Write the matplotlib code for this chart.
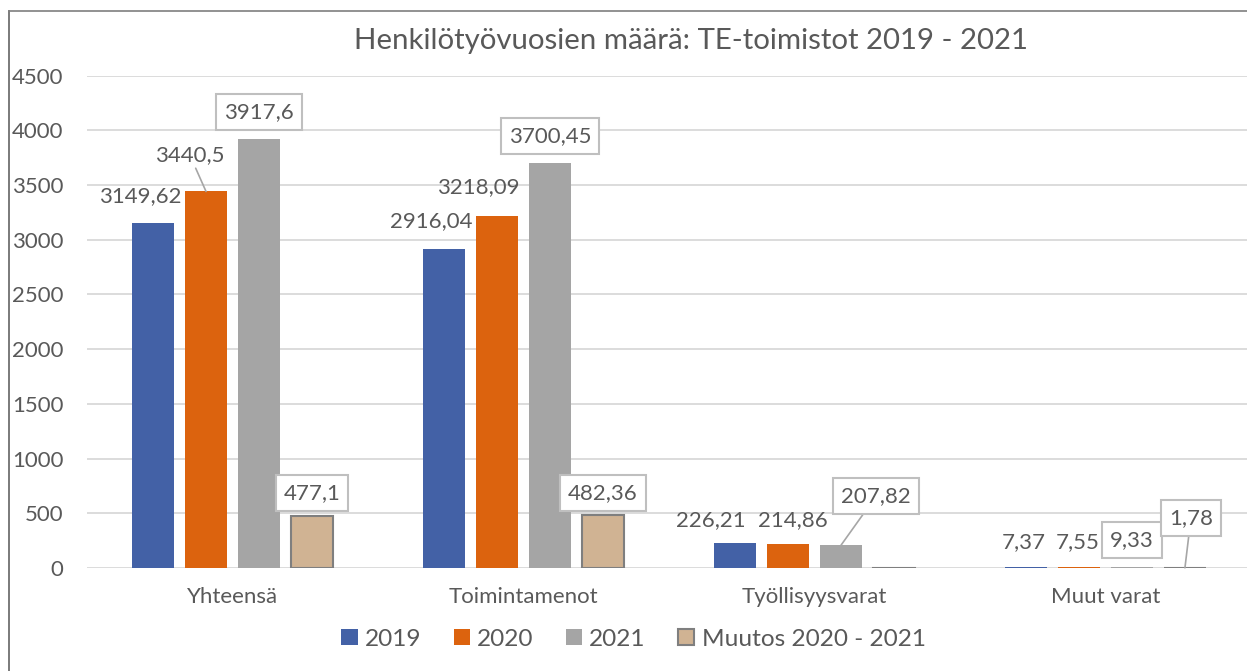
import matplotlib
matplotlib.use("Agg")
import matplotlib.pyplot as plt
from matplotlib.lines import Line2D
import numpy as np

plt.rcParams['font.family'] = ['Lato', 'DejaVu Sans']

categories = ["Yhteensä", "Toimintamenot", "Työllisyysvarat", "Muut varat"]
series_names = ["2019", "2020", "2021", "Muutos 2020 - 2021"]
v2019 = [3149.62, 2916.04, 226.21, 7.37]
v2020 = [3440.5, 3218.09, 214.86, 7.55]
v2021 = [3917.6, 3700.45, 207.82, 9.33]
vchange = [477.1, 482.36, -7.04, 1.78]
title = "Henkilötyövuosien määrä: TE-toimistot 2019 - 2021"
yticks = [0, 500, 1000, 1500, 2000, 2500, 3000, 3500, 4000, 4500]

colors = ["#4361A6", "#DC630E", "#A5A5A5", "#D0B393"]
TXT = "#595959"

W, H = 1247, 671
fig = plt.figure(figsize=(W / 100, H / 100), dpi=100)
ax = fig.add_axes([87 / W, 103 / H, 1164 / W, 492.5 / H])

x = np.arange(len(categories))
pitch = 0.182
bw = 0.1426
all_series = [v2019, v2020, v2021, vchange]
bars = []
for i, (vals, c) in enumerate(zip(all_series, colors)):
    off = (i - 1.5) * pitch
    if i == 3:
        b = ax.bar(x + off, vals, bw, color=c, edgecolor="#7F7F7F", linewidth=1.5,
                   label=series_names[i], zorder=3)
    else:
        b = ax.bar(x + off, vals, bw, color=c, label=series_names[i], zorder=3)
    bars.append(b)

ax.set_xlim(-0.5, 3.5)
ax.set_ylim(0, 4500)
ax.set_yticks(yticks)
ax.set_yticklabels([str(t) for t in yticks])
ax.set_xticks(x)
ax.set_xticklabels(categories)
ax.tick_params(axis='y', length=0, pad=17, labelsize=16, labelcolor=TXT)
ax.tick_params(axis='x', length=0, pad=14, labelsize=16, labelcolor=TXT)
ax.grid(axis='y', color="#D9D9D9", linewidth=1.3, zorder=0)
ax.set_axisbelow(True)
for s in ax.spines.values():
    s.set_visible(False)

def fmt(v):
    return f"{v:g}".replace(".", ",")

# label offsets in pixels (dx, dy) per series per category; None = no label
offsets = [
    [(-13, 27), (-13, 28), (-24, 23), (-2, 25)],
    [(-16, 36), (-19, 29), (5, 24), (-1, 25)],
    [(0, 27), (0, 27), (35, 49), (0, 27)],
    [(0, 23), (0, 22), None, (6, 50)],
]
boxed = [False, False, True, True]
leaders = {(1, 0), (2, 2), (3, 3)}
for si, vals in enumerate(all_series):
    for ci, v in enumerate(vals):
        o = offsets[si][ci]
        if o is None:
            continue
        xb = x[ci] + (si - 1.5) * pitch
        kw = {}
        if boxed[si]:
            kw['bbox'] = dict(boxstyle="square,pad=0.35", fc="white", ec="#BFBFBF", lw=1.5)
        if (si, ci) in leaders:
            kw['arrowprops'] = dict(arrowstyle="-", color="#A6A6A6", lw=1.2,
                                    shrinkA=0, shrinkB=0)
        ax.annotate(fmt(v), xy=(xb, v), xytext=o, textcoords='offset pixels',
                    ha='center', va='center', fontsize=16, color=TXT, zorder=5, **kw)

fig.text(691 / W, 1 - 41 / H, title, fontsize=21.2, color=TXT, ha='center', va='center')

fig.legend(handles=bars, labels=series_names, loc='center', bbox_to_anchor=(633.5 / W, 32 / H),
           ncol=4, frameon=False, fontsize=17.6, handlelength=0.66, handleheight=0.66,
           handletextpad=0.3, columnspacing=1.32, labelcolor=TXT)

# chart frame
fig.add_artist(Line2D([9 / W, 9 / W], [0, 1 - 11 / H], transform=fig.transFigure,
                      color="#6F6F6F", lw=1.3))
fig.add_artist(Line2D([9 / W, 1], [1 - 11 / H, 1 - 11 / H], transform=fig.transFigure,
                      color="#7F7F7F", lw=1.2))

fig.savefig("out.png", dpi=100)
